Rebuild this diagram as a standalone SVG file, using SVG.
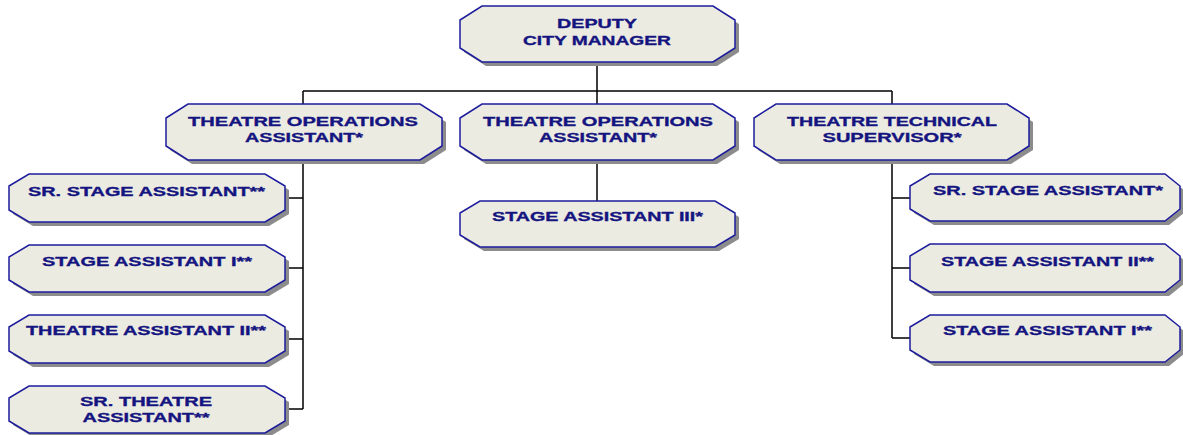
<svg xmlns="http://www.w3.org/2000/svg" width="1183" height="435" viewBox="0 0 1183 435">
<style>
.sh{fill:#8c8c8c;stroke:none}
.bx{fill:#ecebe2;stroke:#1c1c9c;stroke-width:1.5}
.t{font-family:"Liberation Sans",Arial,sans-serif;font-weight:bold;font-size:13.5px;fill:#141480;stroke:#141480;stroke-width:0.35;text-anchor:middle}
.c{stroke:#000;stroke-width:1.5;fill:none}
</style>
<rect width="1183" height="435" fill="#fff"/>
<g id="connectors">
<path class="c" d="M597,62V104M303,91H892M303,91V104M892,91V104"/>
<path class="c" d="M303,160V409M285,198H303M285,268H303M285,339H303M285,409H303"/>
<path class="c" d="M597,160V201"/>
<path class="c" d="M892,160V338M892,198H910M892,268H910M892,338H910"/>
</g>
<g id="deputy-city-manager">
<polygon class="sh" transform="translate(4,4)" points="482,6 713,6 735,20 735,48 713,62 482,62 460,48 460,20"/>
<polygon class="bx" points="482,6 713,6 735,20 735,48 713,62 482,62 460,48 460,20"/>
<text class="t" x="597" y="28" textLength="80" lengthAdjust="spacingAndGlyphs">DEPUTY</text>
<text class="t" x="597" y="45" textLength="148" lengthAdjust="spacingAndGlyphs">CITY MANAGER</text>
</g>
<g id="theatre-operations-assistant-1">
<polygon class="sh" transform="translate(4,4)" points="188,104 420,104 442,118 442,146 420,160 188,160 166,146 166,118"/>
<polygon class="bx" points="188,104 420,104 442,118 442,146 420,160 188,160 166,146 166,118"/>
<text class="t" x="303" y="126" textLength="230" lengthAdjust="spacingAndGlyphs">THEATRE OPERATIONS</text>
<text class="t" x="304" y="142" textLength="118" lengthAdjust="spacingAndGlyphs">ASSISTANT*</text>
</g>
<g id="theatre-operations-assistant-2">
<polygon class="sh" transform="translate(4,4)" points="482,104 713,104 735,118 735,146 713,160 482,160 460,146 460,118"/>
<polygon class="bx" points="482,104 713,104 735,118 735,146 713,160 482,160 460,146 460,118"/>
<text class="t" x="598" y="126" textLength="230" lengthAdjust="spacingAndGlyphs">THEATRE OPERATIONS</text>
<text class="t" x="598" y="142" textLength="118" lengthAdjust="spacingAndGlyphs">ASSISTANT*</text>
</g>
<g id="theatre-technical-supervisor">
<polygon class="sh" transform="translate(4,4)" points="776,104 1007,104 1029,118 1029,146 1007,160 776,160 754,146 754,118"/>
<polygon class="bx" points="776,104 1007,104 1029,118 1029,146 1007,160 776,160 754,146 754,118"/>
<text class="t" x="892" y="126" textLength="210" lengthAdjust="spacingAndGlyphs">THEATRE TECHNICAL</text>
<text class="t" x="892" y="142" textLength="139" lengthAdjust="spacingAndGlyphs">SUPERVISOR*</text>
</g>
<g id="sr-stage-assistant-left">
<polygon class="sh" transform="translate(4,4)" points="29,174 265,174 285,186 285,210 265,222 29,222 9,210 9,186"/>
<polygon class="bx" points="29,174 265,174 285,186 285,210 265,222 29,222 9,210 9,186"/>
<text class="t" x="146.5" y="196" textLength="237" lengthAdjust="spacingAndGlyphs">SR. STAGE ASSISTANT**</text>
</g>
<g id="stage-assistant-i-left">
<polygon class="sh" transform="translate(4,4)" points="29,245 265,245 285,257 285,280 265,292 29,292 9,280 9,257"/>
<polygon class="bx" points="29,245 265,245 285,257 285,280 265,292 29,292 9,280 9,257"/>
<text class="t" x="147" y="266" textLength="210" lengthAdjust="spacingAndGlyphs">STAGE ASSISTANT I**</text>
</g>
<g id="theatre-assistant-ii">
<polygon class="sh" transform="translate(4,4)" points="29,315 265,315 285,327 285,351 265,363 29,363 9,351 9,327"/>
<polygon class="bx" points="29,315 265,315 285,327 285,351 265,363 29,363 9,351 9,327"/>
<text class="t" x="146" y="335" textLength="240" lengthAdjust="spacingAndGlyphs">THEATRE ASSISTANT II**</text>
</g>
<g id="sr-theatre-assistant">
<polygon class="sh" transform="translate(4,4)" points="29,386 265,386 285,398 285,421 265,433 29,433 9,421 9,398"/>
<polygon class="bx" points="29,386 265,386 285,398 285,421 265,433 29,433 9,421 9,398"/>
<text class="t" x="146" y="406" textLength="132" lengthAdjust="spacingAndGlyphs">SR. THEATRE</text>
<text class="t" x="146" y="422" textLength="127" lengthAdjust="spacingAndGlyphs">ASSISTANT**</text>
</g>
<g id="stage-assistant-iii">
<polygon class="sh" transform="translate(4,4)" points="480,201 715,201 735,213 735,235 715,247 480,247 460,235 460,213"/>
<polygon class="bx" points="480,201 715,201 735,213 735,235 715,247 480,247 460,235 460,213"/>
<text class="t" x="597.5" y="221" textLength="211" lengthAdjust="spacingAndGlyphs">STAGE ASSISTANT III*</text>
</g>
<g id="sr-stage-assistant-right">
<polygon class="sh" transform="translate(4,4)" points="930,174 1165,174 1180,186 1180,209 1165,221 930,221 910,209 910,186"/>
<polygon class="bx" points="930,174 1165,174 1180,186 1180,209 1165,221 930,221 910,209 910,186"/>
<text class="t" x="1048" y="195" textLength="230" lengthAdjust="spacingAndGlyphs">SR. STAGE ASSISTANT*</text>
</g>
<g id="stage-assistant-ii-right">
<polygon class="sh" transform="translate(4,4)" points="930,244 1165,244 1180,256 1180,280 1165,292 930,292 910,280 910,256"/>
<polygon class="bx" points="930,244 1165,244 1180,256 1180,280 1165,292 930,292 910,280 910,256"/>
<text class="t" x="1047.5" y="266" textLength="213" lengthAdjust="spacingAndGlyphs">STAGE ASSISTANT II**</text>
</g>
<g id="stage-assistant-i-right">
<polygon class="sh" transform="translate(4,4)" points="930,315 1165,315 1180,327 1180,350 1165,362 930,362 910,350 910,327"/>
<polygon class="bx" points="930,315 1165,315 1180,327 1180,350 1165,362 930,362 910,350 910,327"/>
<text class="t" x="1047.5" y="335" textLength="209" lengthAdjust="spacingAndGlyphs">STAGE ASSISTANT I**</text>
</g>
</svg>
